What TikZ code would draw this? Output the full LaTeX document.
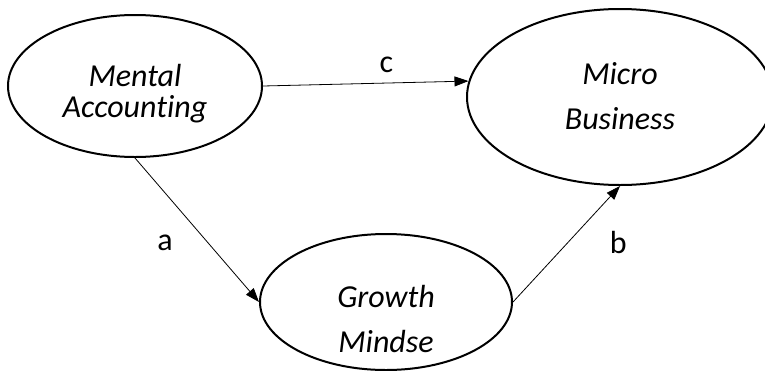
\documentclass[tikz,border=0pt]{standalone}
\usepackage{fontspec}
\setmainfont{Carlito}[Ligatures=NoCommon]
\usetikzlibrary{arrows.meta, shapes.geometric, positioning}

\begin{document}
\begin{tikzpicture}[x=1pt, y=-1pt, % pixel units, y downwards
         > = {Triangle[length=14pt, width=10pt]}, % defined in "arrows.meta
oval/.style = {ellipse, draw, line width=2pt, inner sep=0pt},
txt/.style  = {font=\fontsize{32}{31}\selectfont\itshape,
               align=center, inner sep=0pt},
lbl/.style  = {font=\fontsize{32}{32}\selectfont, inner sep=0pt},
link/.style = {->, line width=0.8pt}
                    ]
	% page frame
	\useasboundingbox (0,0) rectangle (765,370);
	\clip (0,0) rectangle (765,370);

	% constructs
	\node[oval, minimum width=254pt, minimum height=142pt] (ma) at (135,86) {};
	\node[oval, minimum width=306pt, minimum height=176pt] (mb) at (620,97) {};
	\node[oval, minimum width=252pt, minimum height=136pt] (gm) at (386,302) {};

	\node[txt] (ma-text) at ([yshift=-8pt]ma.center) {Mental\\Accounting};
	\node[txt] (mb-text) at ([yshift=1pt]mb.center) {Micro\\[14pt]Business};
	\node[txt] (gm-text) at ([yshift=-17pt]gm.center) {Growth\\[14pt]Mindse};

	% paths
	\draw[link] (ma.east) -- (mb.174) node[lbl, pos=0.6, above=10pt] (c-label) {c};
	\draw[link] (ma.south) -- (gm.west) node[lbl, pos=0.59, left=35pt] (a-label) {a};
	\draw[link] (gm.east) -- (mb.south) node[lbl, pos=0.51, right=42pt] (b-label) {b};
\end{tikzpicture}
\end{document}
